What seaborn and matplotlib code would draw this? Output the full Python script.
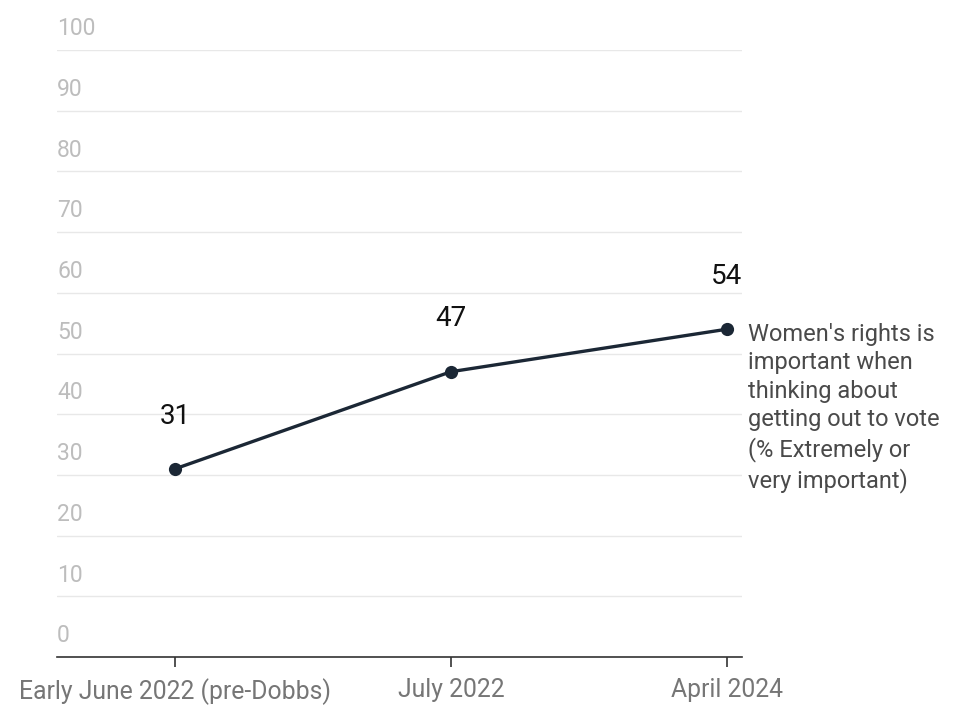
import numpy as np
import pandas as pd
import matplotlib
matplotlib.use("Agg")
import matplotlib.pyplot as plt
import seaborn as sns

periods = ["Early June 2022 (pre-Dobbs)", "July 2022", "April 2024"]
values = [31, 47, 54]
y_ticks = [0, 10, 20, 30, 40, 50, 60, 70, 80, 90, 100]
series_label = ("Women's rights is\nimportant when\nthinking about\n"
                "getting out to vote\n(% Extremely or\nvery important)")

df = pd.DataFrame({"period": periods, "value": values})

sns.set_style("white")
plt.rcParams["font.family"] = ["Roboto", "DejaVu Sans"]

fig = plt.figure(figsize=(9.71, 7.09), dpi=100)
ax = fig.add_axes([57 / 971, 1 - 657 / 709, (742 - 57) / 971, (657 - 50) / 709])

sns.lineplot(data=df, x="period", y="value", ax=ax, color="#1b2735",
             linewidth=2.4, marker="o", markersize=9.5, markeredgewidth=0,
             sort=False)

ax.set_ylim(0, 100)
ax.set_xlim(-0.428, 2.055)
ax.set_yticks(y_ticks)
ax.yaxis.grid(True, color="#e8e8e8", linewidth=1)
ax.set_yticklabels([])
ax.tick_params(axis="y", length=0)
for t in y_ticks:
    ax.text(0, t + 1.6, str(t), transform=ax.get_yaxis_transform(),
            ha="left", va="bottom", fontsize=16.5, color="#bdbdbd")

for s in ["top", "right", "left"]:
    ax.spines[s].set_visible(False)
ax.spines["bottom"].set_color("#333333")
ax.spines["bottom"].set_linewidth(1.2)
ax.tick_params(axis="x", length=7, width=1.2, color="#333333",
               labelsize=17.8, labelcolor="#767676", pad=8, bottom=True)
ax.set_xlabel("")
ax.set_ylabel("")

for i, v in enumerate(values):
    ax.text(i, v + 8.7, str(v), ha="center", va="center",
            fontsize=20, color="#111111")

ax.text(2.075, values[-1] + 1.1, series_label, ha="left", va="top",
        fontsize=17, color="#4a4a4a", linespacing=1.31,
        transform=ax.transData, clip_on=False)

fig.savefig("out.png", dpi=100)
